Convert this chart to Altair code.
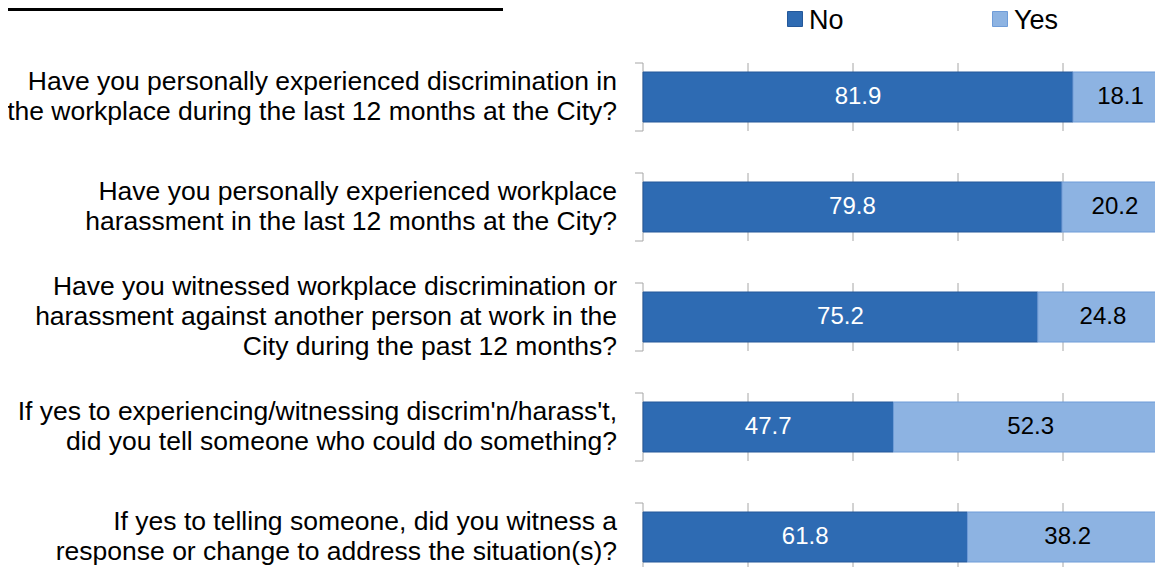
import altair as alt
import pandas as pd

questions = [
    "Have you personally experienced discrimination in\nthe workplace during the last 12 months at the City?",
    "Have you personally experienced workplace\nharassment in the last 12 months at the City?",
    "Have you witnessed workplace discrimination or\nharassment against another person at work in the\nCity during the past 12 months?",
    "If yes to experiencing/witnessing discrim'n/harass't,\ndid you tell someone who could do something?",
    "If yes to telling someone, did you witness a\nresponse or change to address the situation(s)?",
]
no_vals = [81.9, 79.8, 75.2, 47.7, 61.8]
yes_vals = [18.1, 20.2, 24.8, 52.3, 38.2]
answers = ["No", "Yes"]
grid_vals = [20, 40, 60, 80]

FONT = "Liberation Sans"
FILL = {"No": "#2E6BB3", "Yes": "#8DB3E2"}
EDGE = {"No": "#24589A", "Yes": "#6F9CD8"}

rows = []
for i, (n, y) in enumerate(zip(no_vals, yes_vals)):
    rows.append({"idx": i, "answer": "No", "value": n, "x0": 0.0, "x1": n})
    rows.append({"idx": i, "answer": "Yes", "value": y, "x0": n, "x1": n + y})
bars_df = pd.DataFrame(rows)

q_df = pd.DataFrame({"idx": list(range(len(questions))), "label": questions})
grid_df = pd.DataFrame([{"idx": i, "g": g} for i in range(len(questions)) for g in grid_vals])
leg_df = pd.DataFrame({"answer": answers})

xs = alt.Scale(domain=[0, 100], range=[0, 525], nice=False, zero=False)
ys = alt.Scale(domain=[-0.5, 4.5], range=[0, 550], nice=False, zero=False)

def X(f):
    return alt.X(f, scale=xs, axis=None)

def Y(f):
    return alt.Y(f, scale=ys, axis=None)

stacked = alt.Chart(bars_df).transform_calculate(
    ya="datum.idx - 25/110", yb="datum.idx + 25/110",
    mid="(datum.x0 + datum.x1) / 2",
)

bar_layers = []
for a in answers:
    bar_layers.append(
        stacked.transform_filter(alt.datum.answer == a).mark_bar(
            strokeWidth=1, stroke=EDGE[a], fill=FILL[a]
        ).encode(x=X("x0:Q"), x2="x1:Q", y=Y("ya:Q"), y2="yb:Q")
    )

values_no = stacked.transform_filter(alt.datum.answer == "No").mark_text(
    font=FONT, fontSize=24, baseline="middle", align="center", color="#FFFFFF"
).encode(x=X("mid:Q"), y=Y("idx:Q"), text=alt.Text("value:Q", format=".1f"))
values_yes = stacked.transform_filter(alt.datum.answer == "Yes").mark_text(
    font=FONT, fontSize=24, baseline="middle", align="center", color="#000000"
).encode(x=X("mid:Q"), y=Y("idx:Q"), text=alt.Text("value:Q", format=".1f"))

grid = alt.Chart(grid_df).transform_calculate(
    ya="datum.idx - 34/110", yb="datum.idx + 34/110"
).mark_rule(color="#A6A6A6", strokeWidth=1).encode(x=X("g:Q"), y=Y("ya:Q"), y2="yb:Q")

qbase = alt.Chart(q_df).transform_calculate(
    ya="datum.idx - 34/110", yb="datum.idx + 34/110",
    ylab="datum.idx - (length(split(datum.label, '\\n')) - 1) * 15 / 110",
)
bracket_v = qbase.mark_rule(color="#A6A6A6", strokeWidth=1).encode(
    x=alt.value(0), y=Y("ya:Q"), y2="yb:Q"
)
bracket_t = qbase.mark_rule(color="#A6A6A6", strokeWidth=1).encode(
    x=alt.value(-8), x2=alt.value(0), y=Y("ya:Q")
)
bracket_b = qbase.mark_rule(color="#A6A6A6", strokeWidth=1).encode(
    x=alt.value(-8), x2=alt.value(0), y=Y("yb:Q")
)

labels = qbase.mark_text(font=FONT, fontSize=26.5, align="right", baseline="middle", lineHeight=30,
                         lineBreak="\n", color="#000000").encode(
    x=alt.value(-26), y=Y("ylab:Q"), text="label:N"
)

# legend (drawn from the answers list)
leg_pos = {"No": 152, "Yes": 357}
leg_layers = []
for a in answers:
    lb = alt.Chart(leg_df).transform_filter(alt.datum.answer == a)
    leg_layers.append(
        lb.mark_square(size=225, fill=FILL[a], stroke=EDGE[a], strokeWidth=1, opacity=1).encode(
            x=alt.value(leg_pos[a]), y=alt.value(-23)
        )
    )
    leg_layers.append(
        lb.mark_text(font=FONT, fontSize=27, align="left", baseline="middle", color="#000000").encode(
            x=alt.value(leg_pos[a] + 14), y=alt.value(-21), text="answer:N"
        )
    )

topline = alt.Chart(leg_df).transform_filter(alt.datum.answer == "No").mark_rule(
    color="#000000", strokeWidth=3
).encode(x=alt.value(-636), x2=alt.value(-140), y=alt.value(-32.5))

chart = alt.layer(
    grid, bracket_v, bracket_t, bracket_b, *bar_layers, values_no, values_yes, labels, *leg_layers, topline
).properties(
    width=512, height=550,
    padding={"left": 635, "top": 34, "right": 0, "bottom": 0},
    autosize=alt.AutoSizeParams(type="none"),
).configure_view(strokeWidth=0)

chart.save("out.html", embed_options={"renderer": "svg", "actions": False})
